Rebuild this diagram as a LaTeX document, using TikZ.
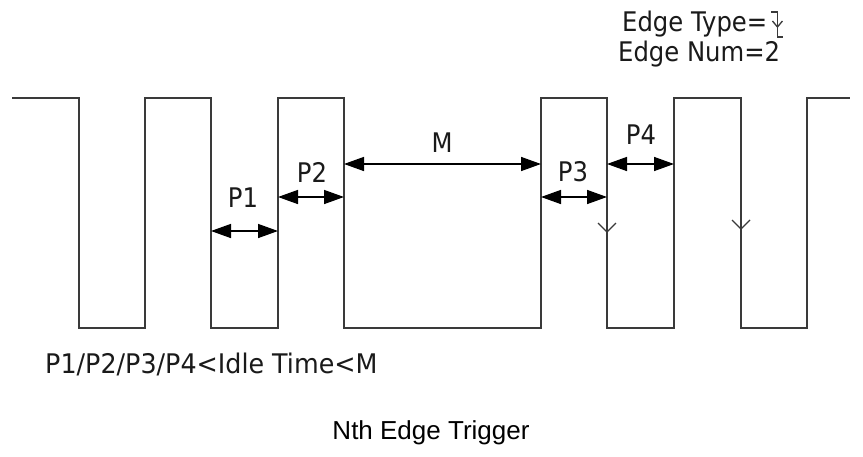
\documentclass[tikz,border=0pt]{standalone}
\usepackage{fontspec}
\setmainfont{DejaVu Sans}[FakeStretch=0.9]
\newfontfamily\condfont{DejaVu Sans}[FakeStretch=0.94]
\newfontfamily\arialfont{Liberation Sans}
\usetikzlibrary{arrows.meta,calc}
\definecolor{wavecol}{HTML}{3A3A3A}
\definecolor{txtcol}{HTML}{1A1A1A}
\begin{document}
\begin{tikzpicture}[x=1pt,y=-1pt,
  wave/.style={line width=1.6pt, draw=wavecol, line join=miter},
  dimarrow/.style={line width=1.5pt, draw=black,
    {Triangle[length=20pt,width=14pt]}-{Triangle[length=20pt,width=14pt]}},
  lbl/.style={font=\fontsize{27}{32}\selectfont, inner sep=0pt, text=txtcol},
  vmark/.style={line width=1.3pt, draw=wavecol}]
\useasboundingbox (0,0) rectangle (863,456);
\fill[white] (0,0) rectangle (863,456);

% waveform
\draw[wave] (12,98) -- (79,98) -- (79,328) -- (145,328) -- (145,98) -- (211,98)
  -- (211,328) -- (278,328) -- (278,98) -- (344,98) -- (344,328) -- (541,328)
  -- (541,98) -- (607,98) -- (607,328) -- (674,328) -- (674,98) -- (741,98)
  -- (741,328) -- (807,328) -- (807,98) -- (850,98);

% interval arrows
\coordinate (a1l) at (211,231); \coordinate (a1r) at (278,231);
\coordinate (a2l) at (278,197); \coordinate (a2r) at (344,197);
\coordinate (aml) at (344,164); \coordinate (amr) at (541,164);
\coordinate (a3l) at (541,197); \coordinate (a3r) at (607,197);
\coordinate (a4l) at (607,164); \coordinate (a4r) at (674,164);
\draw[dimarrow] (a1l) -- (a1r);
\draw[dimarrow] (a2l) -- (a2r);
\draw[dimarrow] (aml) -- (amr);
\draw[dimarrow] (a3l) -- (a3r);
\draw[dimarrow] (a4l) -- (a4r);

% labels
\node[lbl] (p1) at (243,198) {P1};
\node[lbl] (p2) at (312,172) {P2};
\node[lbl] (m) at (442,143) {M};
\node[lbl] (p3) at (573,172) {P3};
\node[lbl] (p4) at (641,135) {P4};

% falling-edge markers
\coordinate (v1) at (607,232);
\coordinate (v2) at (741,229);
\draw[vmark] ($(v1)+(-9,-9)$) -- (v1) -- ($(v1)+(9,-9)$);
\draw[vmark] ($(v2)+(-9,-9)$) -- (v2) -- ($(v2)+(9,-9)$);

% edge type / number
\node[lbl, anchor=base west] (et) at (622,31) {Edge Type=};
\node[lbl, anchor=base west] (en) at (618,61) {Edge Num=2};
\coordinate (s) at ($(et.base east)+(4,0)$);
\draw[vmark] ($(s)+(0,-19)$) -- ($(s)+(6,-19)$) -- ($(s)+(6,6)$) -- ($(s)+(12,6)$);
\draw[vmark] ($(s)+(1,-10)$) -- ($(s)+(6,-4)$) -- ($(s)+(11,-10)$);

% condition and title
\node[font=\condfont\fontsize{27}{32}\selectfont, inner sep=0pt, text=txtcol, anchor=base west] (cond) at (45,373) {P1/P2/P3/P4<Idle Time<M};
\node[font=\arialfont\fontsize{26}{31}\selectfont, inner sep=0pt, anchor=base, text=black] (title) at (431,439) {Nth Edge Trigger};
\end{tikzpicture}
\end{document}
